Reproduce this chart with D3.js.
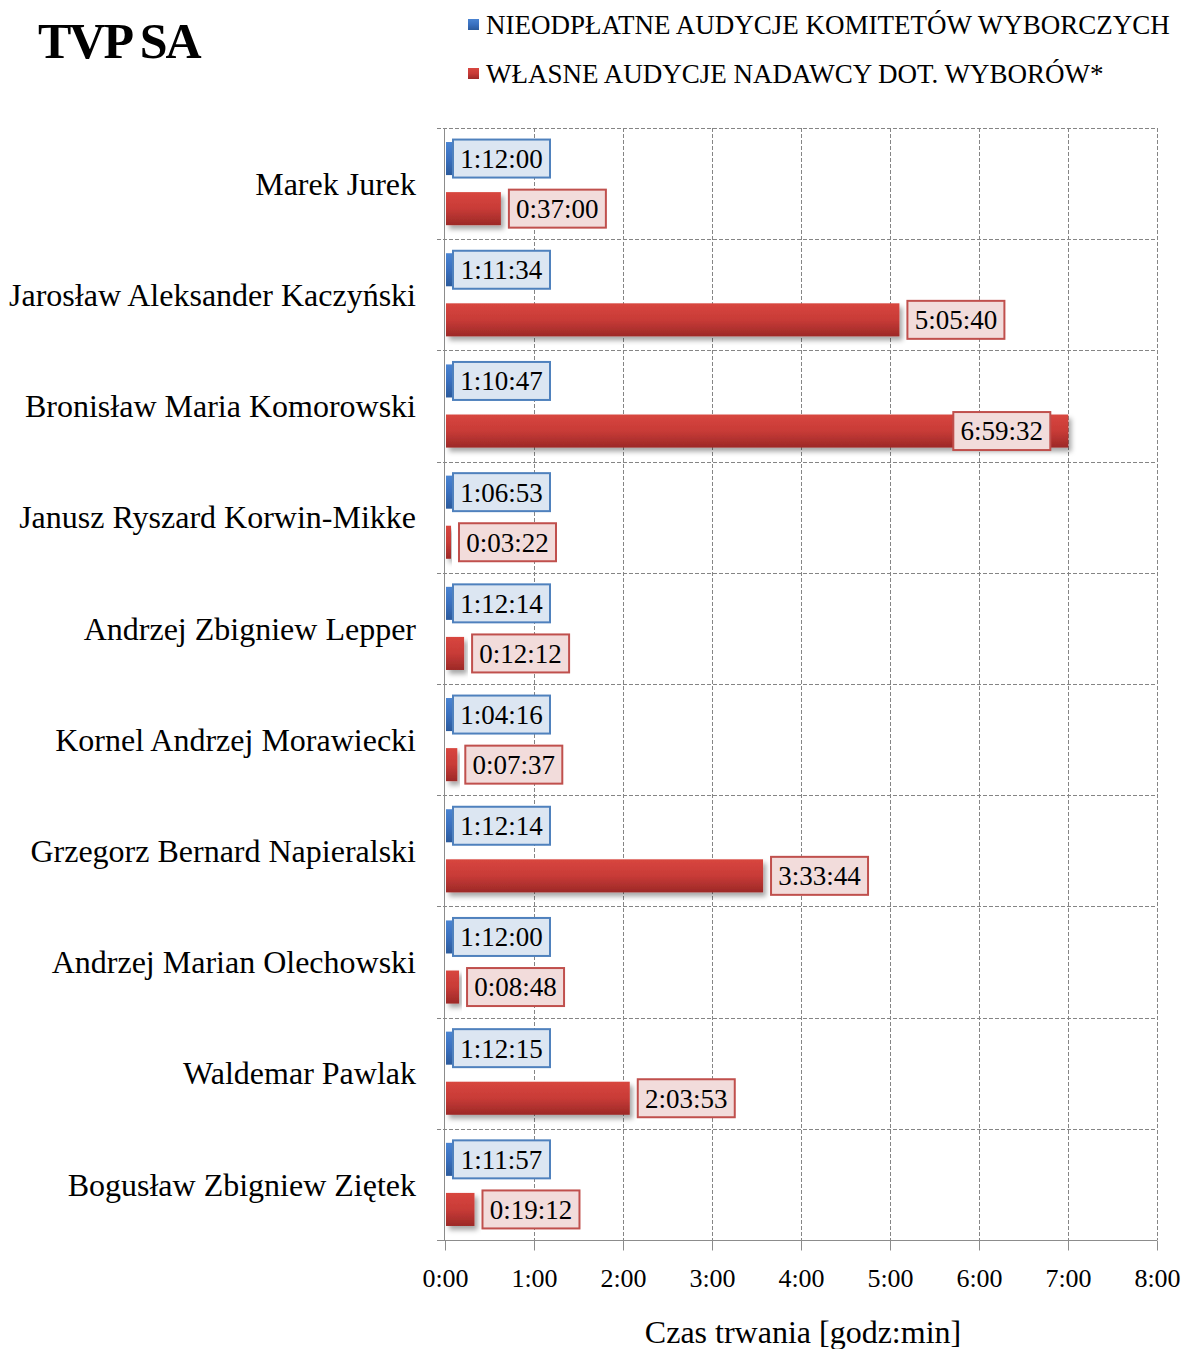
<!DOCTYPE html>
<html>
<head>
<meta charset="utf-8">
<script src="https://cdn.jsdelivr.net/npm/d3@7"></script>
<style>
  body { margin: 0; background: #fff; }
  svg { display: block; font-family: "Liberation Serif", "Times New Roman", serif; }
</style>
</head>
<body>
<svg id="chart" width="1184" height="1349"></svg>
<script>
// candidates, top to bottom
var candidates = [
    "Marek Jurek",
    "Jarosław Aleksander Kaczyński",
    "Bronisław Maria Komorowski",
    "Janusz Ryszard Korwin-Mikke",
    "Andrzej Zbigniew Lepper",
    "Kornel Andrzej Morawiecki",
    "Grzegorz Bernard Napieralski",
    "Andrzej Marian Olechowski",
    "Waldemar Pawlak",
    "Bogusław Zbigniew Ziętek"
];

// free broadcasts of election committees (labels as printed)
var freeLabels = ["1:12:00", "1:11:34", "1:10:47", "1:06:53", "1:12:14",
                  "1:04:16", "1:12:14", "1:12:00", "1:12:15", "1:11:57"];
// bar length as drawn in the picture, in minutes
var freeDrawnMin = [5, 5, 5, 5, 5, 5, 5, 5, 5, 5];

// broadcaster's own election programmes
var ownLabels = ["0:37:00", "5:05:40", "6:59:32", "0:03:22", "0:12:12",
                 "0:07:37", "3:33:44", "0:08:48", "2:03:53", "0:19:12"];

var xTicks = ["0:00", "1:00", "2:00", "3:00", "4:00", "5:00", "6:00", "7:00", "8:00"];

var legendLabels = ["NIEODPŁATNE AUDYCJE KOMITETÓW WYBORCZYCH",
                    "WŁASNE AUDYCJE NADAWCY DOT. WYBORÓW*"];


(function(){

function hms(s){
    var p = s.split(':').map(Number);
    return p[0] + p[1]/60 + p[2]/3600;
}

var rows = candidates.map(function(name, i){
    return {
        name: name,
        free: freeDrawnMin[i]/60,
        freeLabel: freeLabels[i],
        own: hms(ownLabels[i]),
        ownLabel: ownLabels[i]
    };
});

var svg = d3.select('#chart');
var plotL = 445, plotR = 1157, plotT = 128, plotB = 1240;

var x = d3.scaleLinear().domain([0, 8]).range([plotL, plotR]);
var y = d3.scaleBand().domain(candidates).range([plotT, plotB]);
var sub = d3.scaleBand().domain(['free', 'own'])
    .range([0, y.bandwidth()]).paddingInner(0.34).paddingOuter(0.28);

// gradients + shadow
var defs = svg.append('defs');
function grad(id, stops){
    var g = defs.append('linearGradient').attr('id', id)
        .attr('x1', 0).attr('y1', 0).attr('x2', 0).attr('y2', 1);
    stops.forEach(function(s){
        g.append('stop').attr('offset', s[0]).attr('stop-color', s[1]);
    });
}
grad('gBlue', [[0, '#4a84d2'], [0.5, '#3a70bf'], [1, '#2b5a9c']]);
grad('gRed', [[0, '#d8463f'], [0.5, '#c83b37'], [1, '#9c2927']]);
var f = defs.append('filter').attr('id', 'shadow')
    .attr('x', '-10%').attr('y', '-30%').attr('width', '130%').attr('height', '180%');
f.append('feDropShadow').attr('dx', 3).attr('dy', 4).attr('stdDeviation', 2.5)
    .attr('flood-color', '#000').attr('flood-opacity', 0.35);

// grid
var grid = svg.append('g').attr('stroke', '#858585').attr('stroke-dasharray', '4,2').attr('stroke-width', 1);
grid.selectAll('.v').data(d3.range(1, 9)).enter().append('line')
    .attr('x1', function(d){ return x(d) + 0.5; })
    .attr('x2', function(d){ return x(d) + 0.5; })
    .attr('y1', plotT).attr('y2', plotB);
grid.selectAll('.h').data(candidates).enter().append('line')
    .attr('x1', plotL - 8).attr('x2', plotR)
    .attr('y1', function(d){ return Math.round(y(d)) + 0.5; })
    .attr('y2', function(d){ return Math.round(y(d)) + 0.5; });

// axes
var xAxis = d3.axisBottom(x).tickValues(d3.range(0, 9))
    .tickFormat(function(d, i){ return xTicks[i]; })
    .tickSize(10).tickSizeOuter(0).tickPadding(18);
var gx = svg.append('g').attr('transform', 'translate(0,' + (plotB + 0.5) + ')').call(xAxis);
gx.select('.domain').attr('stroke', '#8c8c8c').attr('d', 'M' + (plotL - 8) + ',0H' + plotR);
gx.selectAll('.tick line').attr('stroke', '#8c8c8c');
gx.selectAll('text').attr('font-size', 26).attr('font-family', '"Liberation Serif", serif').attr('fill', '#000');

svg.append('line').attr('x1', plotL - 0.5).attr('x2', plotL - 0.5)
    .attr('y1', plotT).attr('y2', plotB).attr('stroke', '#8c8c8c');

// category labels
svg.append('g').selectAll('text').data(candidates).enter().append('text')
    .attr('x', 416)
    .attr('y', function(d){ return y(d) + y.bandwidth()/2; })
    .attr('dy', '0.35em')
    .attr('text-anchor', 'end')
    .attr('font-size', 32)
    .text(function(d){ return d; });

// bars
var rowG = svg.append('g').selectAll('g').data(rows).enter().append('g')
    .attr('transform', function(d){ return 'translate(0,' + y(d.name) + ')'; });

rowG.append('rect')
    .attr('x', x(0) + 1)
    .attr('y', sub('free'))
    .attr('width', function(d){ return x(d.free) - x(0); })
    .attr('height', sub.bandwidth())
    .attr('fill', 'url(#gBlue)');

rowG.append('rect')
    .attr('x', x(0) + 1)
    .attr('y', sub('own'))
    .attr('width', function(d){ return x(d.own) - x(0); })
    .attr('height', sub.bandwidth())
    .attr('fill', 'url(#gRed)')
    .attr('filter', 'url(#shadow)');

// data label boxes
var boxW = 99, boxH = 40;
function labelBox(sel, key, textKey, valKey, fill, stroke){
    var g = sel.append('g').attr('transform', function(d){
        var bx = x(d[valKey]) + 8;
        if (bx + boxW > plotR) bx = x(d[valKey]) - boxW - 16;
        if (key === 'free') bx = 452;
        return 'translate(' + bx + ',' + (sub(key) + sub.bandwidth()/2 - boxH/2) + ')';
    });
    g.append('rect').attr('x', 1).attr('y', 1).attr('width', boxW - 2).attr('height', boxH - 2)
        .attr('fill', fill).attr('stroke', stroke).attr('stroke-width', 2);
    g.append('text').attr('x', boxW/2).attr('y', boxH/2).attr('dy', '0.35em')
        .attr('text-anchor', 'middle').attr('font-size', 27)
        .text(function(d){ return d[textKey]; });
}
labelBox(rowG, 'free', 'freeLabel', 'free', '#dce6f2', '#4f81bd');
labelBox(rowG, 'own', 'ownLabel', 'own', '#f2dcdb', '#c0504d');

// axis title
svg.append('text').attr('x', (plotL + plotR)/2 + 2).attr('y', 1343)
    .attr('text-anchor', 'middle').attr('font-size', 32)
    .text('Czas trwania [godz:min]');

// chart title
svg.append('text').attr('x', 38).attr('y', 58)
    .attr('font-size', 50).attr('font-weight', 'bold').attr('letter-spacing', -2)
    .text('TVP SA');

// legend
var legend = svg.append('g').selectAll('g').data(legendLabels).enter().append('g')
    .attr('transform', function(d, i){ return 'translate(468,' + (19 + i*49) + ')'; });
legend.append('rect').attr('width', 11).attr('height', 11)
    .attr('fill', function(d, i){ return i === 0 ? 'url(#gBlue)' : 'url(#gRed)'; });
legend.append('text').attr('x', 18).attr('y', 6).attr('dy', '0.35em')
    .attr('font-size', 27)
    .text(function(d){ return d; });

})();
</script>
</body>
</html>
